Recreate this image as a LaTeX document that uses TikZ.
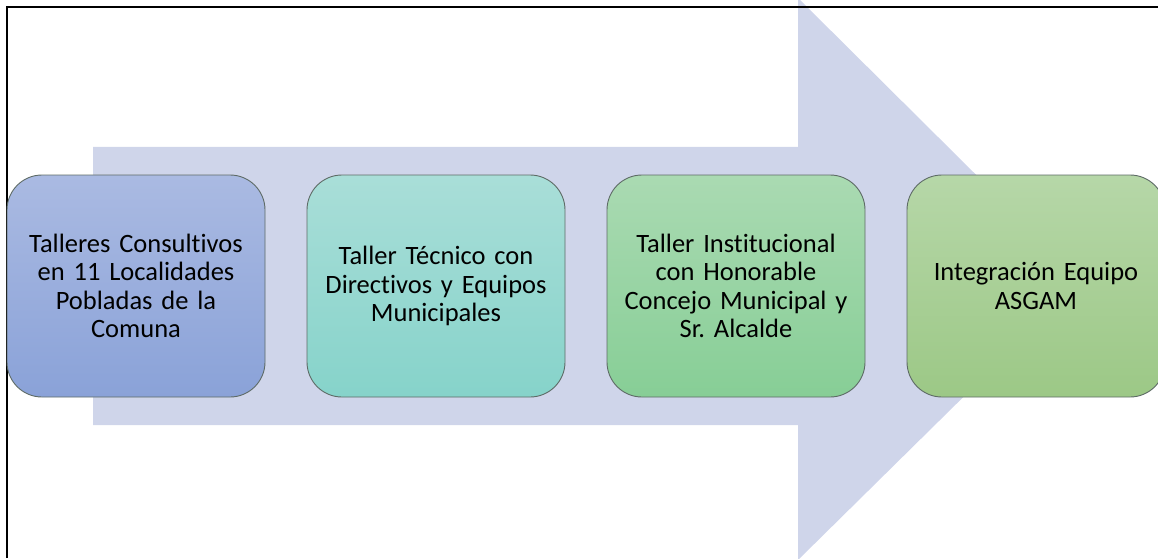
\documentclass[tikz,border=0pt]{standalone}
\usepackage{fontspec}
\setmainfont[Ligatures={NoCommon}]{Carlito}
\frenchspacing
\definecolor{arrowfill}{HTML}{CFD5EA}
\definecolor{boxline}{HTML}{5E6B66}
\definecolor{aTop}{HTML}{AABAE2}
\definecolor{aBot}{HTML}{8AA2D8}
\definecolor{bTop}{HTML}{A9DED8}
\definecolor{bBot}{HTML}{86D3CA}
\definecolor{cTop}{HTML}{AADAB2}
\definecolor{cBot}{HTML}{87CE96}
\definecolor{dTop}{HTML}{B6D7A8}
\definecolor{dBot}{HTML}{9CC886}
\begin{document}
\begin{tikzpicture}[x=1pt,y=1pt,
  stagebox/.style={draw=boxline, line width=0.9pt, rounded corners=35pt,
    minimum width=258pt, minimum height=222pt, text width=250pt, align=center,
    inner sep=0pt, font=\fontsize{26.5}{28.5}\selectfont, text=black}]
\useasboundingbox (0,0) rectangle (1158,558);
\clip (0,0) rectangle (1158,558);
% big arrow
\fill[arrowfill] (93,411) -- (798,411) -- (798,560) -- (1082,278) -- (798,-2) -- (798,133) -- (93,133) -- cycle;
% frame (top and left only)
\draw[line width=1.8pt, black] (7,0) -- (7,551) -- (1160,551);
% stages
\node[stagebox, top color=aTop, bottom color=aBot] (b1) at (136,272) {Talleres Consultivos\\en 11 Localidades\\Pobladas de la\\Comuna};
\node[stagebox, top color=bTop, bottom color=bBot] (b2) at (436,272) {Taller Técnico con\\Directivos y Equipos\\Municipales};
\node[stagebox, top color=cTop, bottom color=cBot] (b3) at (736,272) {Taller Institucional\\con Honorable\\Concejo Municipal y\\Sr. Alcalde};
\node[stagebox, top color=dTop, bottom color=dBot] (b4) at (1036,272) {Integración Equipo\\ASGAM};
\end{tikzpicture}
\end{document}
